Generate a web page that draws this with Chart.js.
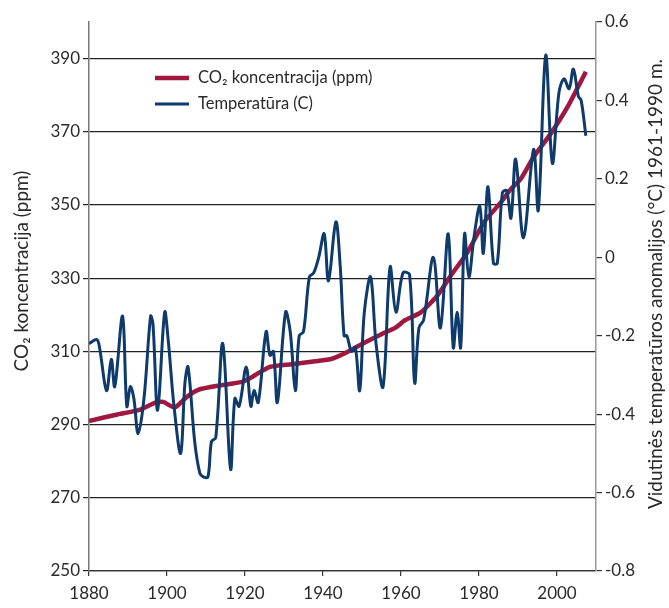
<!DOCTYPE html>
<html>
<head>
<meta charset="utf-8">
<script src="https://cdn.jsdelivr.net/npm/chart.js@4.4.1/dist/chart.umd.min.js"></script>
<style>
  html, body { margin: 0; padding: 0; background: #fff; }
  #wrap { width: 669px; height: 608px; position: relative; }
</style>
</head>
<body>
<div id="wrap"><canvas id="c"></canvas></div>
<script>
// ---- Data ----
const co2Label = "CO\u2082 koncentracija (ppm)";
const tempLabel = "Temperat\u016Bra (C)";
const leftTitle = "CO\u2082 koncentracija (ppm)";
const rightTitle = "Vidutin\u0117s temperat\u016Bros anomalijos (\u00B0C) 1961-1990 m.";

const co2Years  = [1880, 1887, 1893, 1897, 1899, 1902, 1905, 1908, 1913.5, 1919, 1921, 1924.3, 1926.5, 1932, 1938, 1942.3, 1946, 1950, 1955, 1958.6, 1961, 1965, 1969.3, 1972.7, 1977, 1981.3, 1985.6, 1988.2, 1990.7, 1994, 1998.4, 2002.7, 2007.4];
const co2Values = [291, 292.7, 294, 296, 296.2, 294.7, 297.5, 299.5, 300.7, 301.6, 302.5, 304.6, 305.8, 306.5, 307.3, 308, 309.7, 312, 314.7, 316.5, 318.5, 320.6, 325.2, 330.6, 337, 345.3, 350.7, 354.4, 357.1, 363.1, 369.5, 376.8, 386.4];

const tempYears  = [1880, 1882, 1882.7, 1884.5, 1885.7, 1886.6, 1888.6, 1889.7, 1890.6, 1891.5, 1892.6, 1894.1, 1895.8, 1896.4, 1897.6, 1899.4, 1900.3, 1901.8, 1903.5, 1904.6, 1905.4, 1907.1, 1908.4, 1909.3, 1910.5, 1911.4, 1912.5, 1914.3, 1916.3, 1917.4, 1918.5, 1920.3, 1921.5, 1922.3, 1923.4, 1925.4, 1926.4, 1927.3, 1928.3, 1930.4, 1931.6, 1932.9, 1933.9, 1935, 1936.5, 1937.6, 1938.9, 1940.3, 1941.4, 1943.3, 1944.4, 1945.4, 1946.1, 1947.3, 1948.3, 1949.4, 1950.6, 1952.2, 1953.6, 1955.4, 1957.2, 1958.7, 1960.5, 1962.2, 1963.5, 1964.6, 1965.8, 1968.3, 1970.1, 1972.1, 1973.4, 1974.4, 1975.3, 1976.3, 1977.4, 1978.7, 1980.2, 1981.1, 1982.3, 1983.7, 1984.7, 1986, 1987.1, 1988.2, 1989.4, 1991.4, 1994, 1995.2, 1997.1, 1998.8, 2000.5, 2001.8, 2003.1, 2004.2, 2005.5, 2006.2, 2007.4];
const tempValues = [-0.22, -0.21, -0.23, -0.34, -0.26, -0.33, -0.15, -0.38, -0.33, -0.36, -0.45, -0.36, -0.15, -0.17, -0.39, -0.14, -0.21, -0.38, -0.50, -0.32, -0.28, -0.47, -0.55, -0.56, -0.56, -0.47, -0.46, -0.22, -0.54, -0.36, -0.38, -0.28, -0.38, -0.34, -0.37, -0.19, -0.25, -0.24, -0.37, -0.14, -0.19, -0.34, -0.20, -0.19, -0.05, -0.04, 0.00, 0.06, -0.06, 0.09, -0.02, -0.20, -0.20, -0.24, -0.23, -0.34, -0.14, -0.05, -0.22, -0.33, -0.025, -0.14, -0.04, -0.045, -0.32, -0.18, -0.16, 0.00, -0.18, 0.06, -0.23, -0.14, -0.23, 0.06, -0.05, 0.05, 0.13, 0.01, 0.18, -0.015, -0.015, 0.165, 0.17, 0.10, 0.25, 0.05, 0.275, 0.12, 0.515, 0.24, 0.42, 0.455, 0.43, 0.48, 0.41, 0.40, 0.31];

const xTicks    = [1880, 1900, 1920, 1940, 1960, 1980, 2000];
const co2Ticks  = [250, 270, 290, 310, 330, 350, 370, 390];
const tempTicks = [-0.8, -0.6, -0.4, -0.2, 0, 0.2, 0.4, 0.6];

// ---- Styles ----
const CO2_COLOR = '#a0183f';
const TEMP_COLOR = '#0e3a6c';
const TEXT_COLOR = '#2a2a2a';
const FONT = 'Lato';

const co2Points = co2Years.map((x, i) => ({ x: x, y: co2Values[i] }));
const tempPoints = tempYears.map((x, i) => ({ x: x, y: tempValues[i] }));

const decorPlugin = {
  id: 'decor',
  afterDraw(chart) {
    const ctx = chart.ctx;
    ctx.save();
    ctx.fillStyle = TEXT_COLOR;
    ctx.font = '19px ' + FONT;
    ctx.textAlign = 'center';
    ctx.textBaseline = 'middle';
    // left title
    ctx.save();
    ctx.translate(22, 271);
    ctx.rotate(-Math.PI / 2);
    ctx.fillText(leftTitle, 0, 0);
    ctx.restore();
    // right title
    ctx.save();
    ctx.translate(656, 284);
    ctx.rotate(-Math.PI / 2);
    ctx.fillText(rightTitle, 0, 0);
    ctx.restore();
    // legend
    const items = [
      { label: chart.data.datasets[1].label, color: CO2_COLOR, y: 78, w: 4.5 },
      { label: chart.data.datasets[0].label, color: TEMP_COLOR, y: 104, w: 3 }
    ];
    ctx.font = '16.5px ' + FONT;
    ctx.textAlign = 'left';
    items.forEach(it => {
      ctx.strokeStyle = it.color;
      ctx.lineWidth = it.w;
      ctx.beginPath();
      ctx.moveTo(155, it.y);
      ctx.lineTo(189, it.y);
      ctx.stroke();
      ctx.fillStyle = TEXT_COLOR;
      ctx.fillText(it.label, 198, it.y);
    });
    ctx.restore();
  }
};

new Chart(document.getElementById('c'), {
  type: 'line',
  data: {
    datasets: [
      {
        label: tempLabel,
        data: tempPoints,
        yAxisID: 'y2',
        borderColor: TEMP_COLOR,
        borderWidth: 3,
        pointRadius: 0,
        tension: 0.35,
        fill: false,
        order: 0
      },
      {
        label: co2Label,
        data: co2Points,
        yAxisID: 'y',
        borderColor: CO2_COLOR,
        borderWidth: 4.5,
        pointRadius: 0,
        tension: 0.2,
        fill: false,
        order: 1
      }
    ]
  },
  options: {
    responsive: true,
    maintainAspectRatio: false,
    animation: false,
    devicePixelRatio: 1,
    layout: { padding: { top: 22, left: 0, right: 0, bottom: 0 } },
    plugins: { legend: { display: false }, tooltip: { enabled: false } },
    scales: {
      x: {
        type: 'linear',
        min: 1880,
        max: 2010,
        afterBuildTicks: s => { s.ticks = xTicks.map(v => ({ value: v })); },
        afterFit: s => { s.height = 37; },
        grid: { drawOnChartArea: false, drawTicks: true, tickLength: 5, color: '#333', lineWidth: 1.2 },
        border: { color: '#333', width: 1.2 },
        ticks: { color: TEXT_COLOR, font: { family: FONT, size: 17 }, padding: 7, maxRotation: 0, callback: v => String(v) }
      },
      y: {
        position: 'left',
        min: 250,
        max: 400,
        afterBuildTicks: s => { s.ticks = co2Ticks.map(v => ({ value: v })); },
        afterFit: s => { s.width = 89; },
        grid: { color: '#222', lineWidth: 1.2, tickLength: 6 },
        border: { color: '#777', width: 1.5 },
        ticks: { color: TEXT_COLOR, font: { family: FONT, size: 17 }, padding: 3 }
      },
      y2: {
        position: 'right',
        min: -0.8,
        max: 0.6,
        afterBuildTicks: s => { s.ticks = tempTicks.map(v => ({ value: v })); },
        afterFit: s => { s.width = 73; },
        grid: { drawOnChartArea: false, color: '#333', lineWidth: 1.2, tickLength: 6 },
        border: { color: '#999', width: 1.5 },
        ticks: { color: TEXT_COLOR, font: { family: FONT, size: 17 }, padding: 3,
                 callback: v => (Math.abs(v) < 1e-9 ? '0' : String(Math.round(v * 10) / 10)) }
      }
    }
  },
  plugins: [decorPlugin]
});
</script>
</body>
</html>
